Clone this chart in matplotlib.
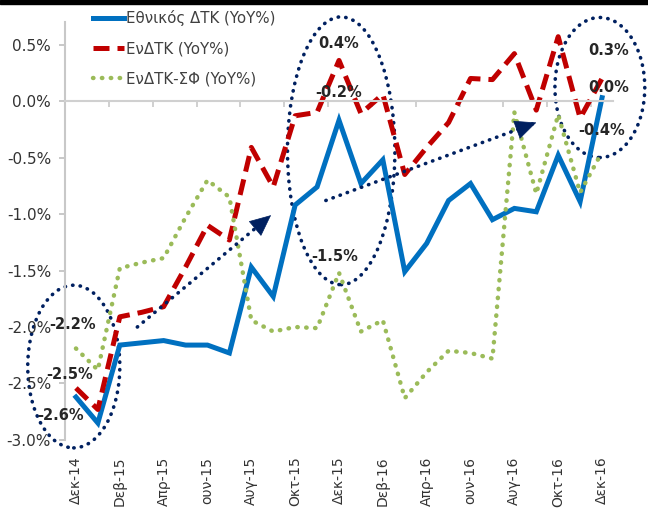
import numpy as np
import matplotlib.pyplot as plt
from matplotlib.patches import Ellipse, Rectangle

months = ["Δεκ-14", "Dεβ-15", "Απρ-15", "ουν-15", "Αυγ-15", "Οκτ-15", "Δεκ-15",
          "Dεβ-16", "Απρ-16", "ουν-16", "Αυγ-16", "Οκτ-16", "Δεκ-16"]

# monthly YoY %, Dec-14 .. Dec-16
national = [-2.62, -2.85, -2.16, -2.14, -2.12, -2.16, -2.16, -2.23, -1.47, -1.73,
            -0.92, -0.76, -0.17, -0.73, -0.52, -1.51, -1.26, -0.88, -0.73, -1.05,
            -0.95, -0.98, -0.48, -0.89, 0.03]
hicp = [-2.54, -2.73, -1.91, -1.87, -1.82, -1.47, -1.10, -1.23, -0.41, -0.76,
        -0.13, -0.10, 0.36, -0.11, 0.06, -0.65, -0.41, -0.19, 0.20, 0.19,
        0.42, -0.08, 0.57, -0.15, 0.20]
hicp_ct = [-2.19, -2.38, -1.48, -1.43, -1.39, -1.03, -0.70, -0.85, -1.94, -2.04,
           -2.00, -2.01, -1.52, -2.04, -1.94, -2.63, -2.40, -2.21, -2.23, -2.28,
           -0.10, -0.82, -0.12, -0.81, -0.45]

x = np.arange(len(national))
navy = "#002060"

fig = plt.figure(figsize=(6.48, 5.08), dpi=100)
ax = fig.add_axes([0.1003, 0.1339, 0.8457, 0.8228])

l1, = ax.plot(x, national, color="#0070C0", lw=3.6, solid_joinstyle="miter")
l2, = ax.plot(x, hicp, color="#C00000", lw=3.6, linestyle=(0, (3.2, 1.6)))
l3, = ax.plot(x, hicp_ct, color="#9BBB59", lw=3.2, linestyle=(0, (0.1, 1.9)),
              dash_capstyle="round")

ax.set_xlim(-0.5, 24.5)
ax.set_ylim(-3.0, 0.7)
ax.set_yticks(np.arange(-3.0, 0.51, 0.5))
ax.set_yticklabels([f"{v:.1f}%" for v in np.arange(-3.0, 0.51, 0.5)])
ax.tick_params(axis="y", length=4, width=1.2, color="#bfbfbf", labelsize=11,
               pad=6, labelcolor="#333333")

# category axis crosses at zero, labels at the bottom
for s in ["top", "right"]:
    ax.spines[s].set_visible(False)
ax.spines["left"].set_color("#c8c8c8")
ax.spines["left"].set_linewidth(1.5)
ax.spines["bottom"].set_position(("data", 0))
ax.spines["bottom"].set_color("#d0d0d0")
ax.spines["bottom"].set_linewidth(1.5)
ax.set_xticks(np.arange(1.5, 24, 2))
ax.tick_params(axis="x", length=4, width=1.2, color="#c8c8c8", labelbottom=False)

sec = ax.secondary_xaxis(0.0)
sec.set_xticks(x[::2])
sec.set_xticklabels(months, rotation=90, fontsize=10, color="#333333")
sec.tick_params(length=0, pad=12)
sec.spines["bottom"].set_visible(False)

leg = fig.legend([l1, l2, l3],
                 ["Εθνικός ΔΤΚ (YoY%)", "ΕνΔΤΚ (YoY%)", "ΕνΔΤΚ-ΣΦ (YoY%)"],
                 loc="upper left", bbox_to_anchor=(0.122, 1.006), frameon=False,
                 fontsize=10.8, handlelength=2.1, handletextpad=0.1,
                 labelspacing=1.0, labelcolor="#404040")

# highlighted areas and trend arrows
for cx, cy, w, h in [(-0.1, -2.35, 4.2, 1.44), (12.1, -0.44, 4.9, 2.37), (23.9, 0.12, 4.1, 1.24)]:
    ax.add_patch(Ellipse((cx, cy), w, h, fill=False, edgecolor=navy, lw=2.6,
                         linestyle=(0, (0.1, 2.0)), capstyle="round", clip_on=False))

for (x0, y0), (x1, y1) in [((2.8, -2.0), (8.9, -1.01)), ((11.4, -0.88), (21.0, -0.19))]:
    ax.annotate("", xy=(x1, y1), xytext=(x0, y0),
                arrowprops=dict(arrowstyle="-", color=navy, lw=2.6,
                                linestyle=(0, (0.1, 2.0)), capstyle="round",
                                shrinkA=0, shrinkB=0))
    # solid head on top of the dotted shaft
    hx, hy = x1 - 0.06 * (x1 - x0), y1 - 0.06 * (y1 - y0)
    ax.annotate("", xy=(x1, y1), xytext=(hx, hy),
                arrowprops=dict(arrowstyle="-|>,head_length=0.55,head_width=0.25",
                                color=navy, lw=0.5, mutation_scale=26,
                                shrinkA=0, shrinkB=0))

labels = [(-0.15, -1.98, "-2.2%"), (-0.3, -2.42, "-2.5%"), (-0.7, -2.78, "-2.6%"),
          (12.0, 0.51, "0.4%"), (12.0, 0.08, "-0.2%"), (11.8, -1.38, "-1.5%"),
          (24.3, 0.45, "0.3%"), (24.3, 0.12, "0.0%"), (24.0, -0.26, "-0.4%")]
for lx, ly, t in labels:
    ax.text(lx, ly, t, ha="center", va="center", fontsize=10.5, fontweight="bold",
            color="#262626", clip_on=False)

fig.patches.append(Rectangle((0, 1 - 4 / 508), 1, 4 / 508, transform=fig.transFigure,
                             color="black", zorder=10))

fig.savefig("out.png", dpi=100)
